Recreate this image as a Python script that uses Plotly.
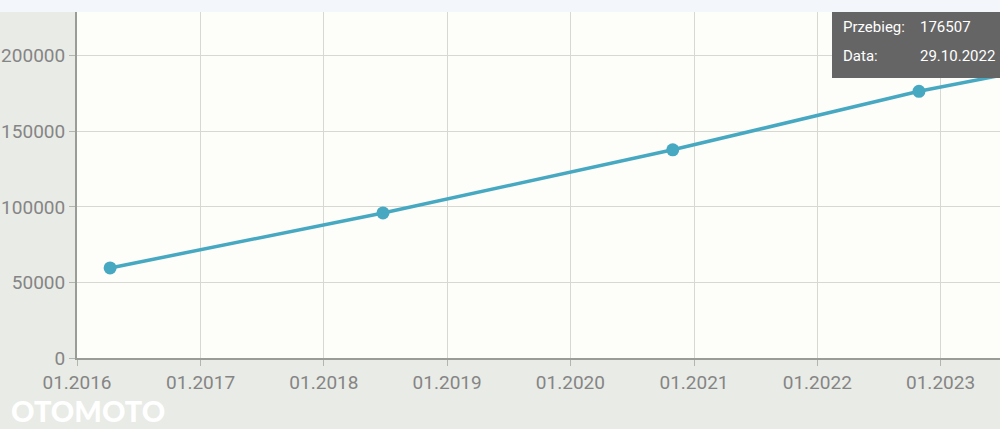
import plotly.graph_objects as go

# Data
dates = ["2016-04-08", "2018-06-25", "2020-10-30", "2022-10-29", "2023-09-15"]
mileage = [59600, 96000, 137800, 176507, 190500]

y_ticks = [0, 50000, 100000, 150000, 200000]
x_range = ["2016-01-01", "2023-06-26"]
y_range = [0, 229000]

tooltip_labels = ["Przebieg:", "Data:"]
tooltip_values = ["176507", "29.10.2022"]

W, H = 1000, 429
ML, MR, MT, MB = 77, 0, 12, 71
PW, PH = W - ML - MR, H - MT - MB

def px_x(p):
    return (p - ML) / PW

def px_y(p):
    return (H - MB - p) / PH

line_color = "#46a9c1"

fig = go.Figure()
fig.add_trace(go.Scatter(
    x=dates, y=mileage, mode="lines+markers",
    line=dict(color=line_color, width=3.5),
    marker=dict(color=line_color, size=13),
    hoverinfo="skip", showlegend=False, cliponaxis=True,
))

fig.update_layout(
    width=W, height=H,
    margin=dict(l=ML, r=MR, t=MT, b=MB),
    paper_bgcolor="#e9ebe6",
    plot_bgcolor="#fdfdf9",
    font=dict(family="Roboto", color="#858585", size=19),
    xaxis=dict(
        type="date", range=x_range, dtick="M12", tick0="2016-01-01",
        tickformat="%m.%Y", showgrid=True, gridcolor="#d8d8d2", gridwidth=1,
        showline=True, linecolor="#9a9c98", linewidth=2,
        ticks="outside", ticklen=6, tickcolor="#b5b5b0", tickwidth=1,
        tickfont=dict(size=19, color="#858585"), zeroline=False,
    ),
    yaxis=dict(
        range=y_range, tickvals=y_ticks, ticktext=[str(v) for v in y_ticks],
        showgrid=True, gridcolor="#d8d8d2", gridwidth=1,
        showline=True, linecolor="#9a9c98", linewidth=2,
        ticks="outside", ticklen=6, tickcolor="#b5b5b0", tickwidth=1,
        tickfont=dict(size=19, color="#858585"), zeroline=False,
    ),
    shapes=[
        dict(type="rect", xref="paper", yref="paper",
             x0=px_x(0), x1=px_x(W), y0=1, y1=px_y(0),
             fillcolor="#f3f6fb", line=dict(width=0), layer="below"),
        dict(type="rect", xref="paper", yref="paper",
             x0=px_x(832), x1=1.0, y0=px_y(78), y1=1,
             fillcolor="#656565", line=dict(width=0), layer="above"),
    ],
)

anns = []
for i, (lab, val) in enumerate(zip(tooltip_labels, tooltip_values)):
    yc = px_y(27 + i * 29)
    anns.append(dict(xref="paper", yref="paper", x=px_x(841), y=yc,
                     text=lab, showarrow=False, xanchor="left", yanchor="middle",
                     font=dict(family="Roboto", size=15, color="#ffffff")))
    anns.append(dict(xref="paper", yref="paper", x=px_x(918), y=yc,
                     text=val, showarrow=False, xanchor="left", yanchor="middle",
                     font=dict(family="Roboto", size=15, color="#ffffff")))
anns.append(dict(xref="paper", yref="paper", x=px_x(9), y=px_y(410),
                 text="OTOMOTO", showarrow=False, xanchor="left", yanchor="middle",
                 font=dict(family="Lato", size=29, color="#ffffff", weight=900)))
fig.update_layout(annotations=anns)

fig.write_html("out.html", config={"displayModeBar": False},
               post_script="document.body.style.margin='0';document.body.style.overflow='hidden';")
